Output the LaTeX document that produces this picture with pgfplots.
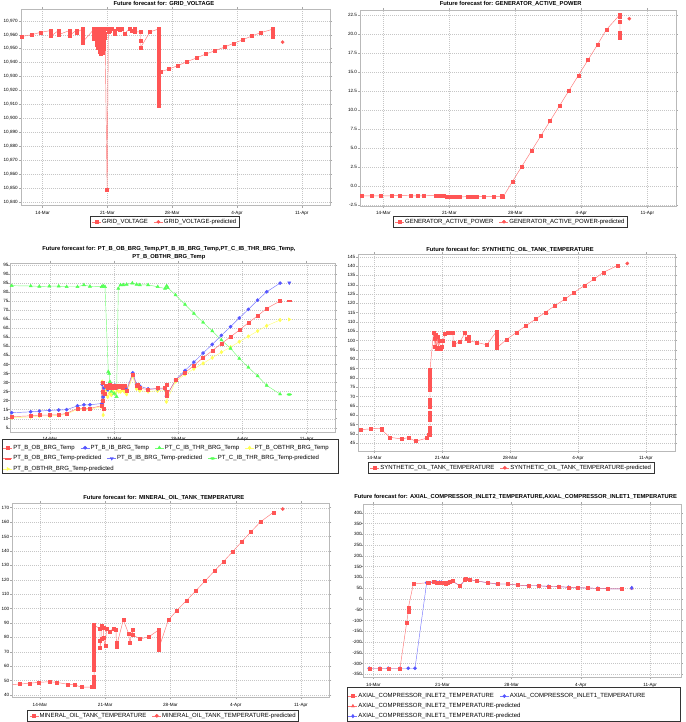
\documentclass[border=0pt]{standalone}
\usepackage{fontspec}
\setmainfont{Liberation Sans}
\usepackage{pgfplots}
\pgfplotsset{compat=1.18}
\definecolor{jred}{RGB}{255,85,85}
\definecolor{jblue}{RGB}{85,85,255}
\definecolor{jgreen}{RGB}{85,255,85}
\definecolor{jyellow}{RGB}{255,255,85}
\newcommand{\ticfont}{\fontsize{4.6}{5.5}\selectfont}
\newcommand{\legfont}{\fontsize{6}{7}\selectfont}
\newcommand{\titfont}{\fontsize{5.8}{8}\selectfont\bfseries}
\pgfplotsset{
  legend image code/.code={\draw[mark repeat=2,mark phase=2,#1] plot coordinates {(0pt,0pt) (4.5pt,0pt) (9pt,0pt)};},
  jfc/.style={
    scale only axis, anchor=north west,
    axis line style={gray!55},
    grid=major,
    major grid style={gray!45, dash pattern=on 0.8pt off 1.2pt, line width=0.35pt},
    tick style={gray!70, line width=0.4pt},
    tick align=outside, major tick length=2pt,
    xtick={14,21,28,35,42},
    xticklabels={14-Mar,21-Mar,28-Mar,4-Apr,11-Apr},
    ticklabel style={font=\ticfont},
    yticklabel style={inner xsep=0.8pt},
    /pgf/number format/assume math mode=true,
    scaled y ticks=false,
    title style={font=\titfont, anchor=south, inner sep=0pt, align=center},
    legend cell align=left,
    legend style={font=\legfont, draw=black!80, fill=white, inner xsep=2pt, inner ysep=2pt,
      nodes={inner sep=0.7pt}, /tikz/every even column/.append style={column sep=5pt}},
    every axis plot/.append style={line width=0.45pt},
  },
  legrow/.style={hide axis, scale only axis, width=5pt, height=5pt, xmin=0, xmax=1, ymin=0, ymax=1,
    anchor=north west, legend cell align=left,
    legend style={font=\legfont, draw=none, fill=none, at={(0,1)}, anchor=north west,
      inner xsep=0pt, inner ysep=0pt, nodes={inner sep=0.7pt},
      /tikz/every even column/.append style={column sep=5pt}}},
  sq/.style={color=#1!80!white, mark=square*, mark size=1.5pt, mark options={solid, fill=#1, draw=#1}},
  ci/.style={color=#1!80!white, mark=*, mark size=1.6pt, mark options={solid, fill=#1, draw=#1}},
  tu/.style={color=#1!80!white, mark=triangle*, mark size=1.8pt, mark options={solid, fill=#1, draw=#1}},
  dm/.style={color=#1!80!white, mark=diamond*, mark size=1.8pt, mark options={solid, fill=#1, draw=#1}},
  hr/.style={color=#1!80!white, mark=square*, mark size=1.5pt, mark options={solid, fill=#1, draw=#1, xscale=1.5, yscale=0.45}},
  td/.style={color=#1!80!white, mark=triangle*, mark size=1.8pt, mark options={solid, fill=#1, draw=#1, rotate=180}},
  he/.style={color=#1!80!white, mark=*, mark size=1.6pt, mark options={solid, fill=#1, draw=#1, xscale=1.4, yscale=0.6}},
  tr/.style={color=#1!80!white, mark=triangle*, mark size=1.8pt, mark options={solid, fill=#1, draw=#1, rotate=-90}},
}
\begin{document}
\begin{tikzpicture}
\useasboundingbox (0pt,0pt) rectangle (685pt,-722pt);

% ---------------- Panel 1: GRID_VOLTAGE
\begin{axis}[jfc, at={(20.7pt,-9pt)}, width=309.3pt, height=196.7pt,
  xmin=11.63, xmax=45.05, ymin=10837.6, ymax=10978.4,
  ytick={10840,10850,...,10970},
  title={Future forecast for: GRID\_VOLTAGE},
  title style={at={(0.463,1)}, yshift=-3.3pt},
  legend style={at={(0.465,-0.0524)}, anchor=north, legend columns=2}]
\addplot[sq=jred] coordinates {
(11.77,10958.8)(12.82,10960.0)(13.78,10961.7)
(14.90,10963.0)(14.90,10961.0)(14.90,10959.0)
(15.72,10963.0)(15.72,10961.5)(15.72,10960.0)
(16.90,10963.0)(16.90,10961.2)(16.90,10959.5)
(17.63,10963.0)(17.63,10961.5)
(18.30,10964.0)(18.30,10962.0)(18.30,10960.0)(18.30,10958.0)(18.30,10956.0)(18.30,10954.5)
(19.55,10964.0)(19.55,10962.0)(19.55,10960.0)(19.55,10958.0)(19.55,10957.0)
(19.70,10957.5)(19.70,10959.5)(19.70,10961.5)(19.70,10963.5)
(19.85,10964.0)(19.85,10961.5)(19.85,10959.0)(19.85,10956.5)(19.85,10954.0)(19.85,10953.0)
(20.00,10951.0)(20.00,10953.5)(20.00,10956.0)(20.00,10958.5)(20.00,10961.0)(20.00,10963.5)
(20.15,10964.0)(20.15,10961.0)(20.15,10958.0)(20.15,10955.0)(20.15,10952.0)(20.15,10949.0)(20.15,10948.0)
(20.30,10946.5)(20.30,10949.5)(20.30,10952.5)(20.30,10955.5)(20.30,10958.5)(20.30,10961.5)(20.30,10964.0)
(20.45,10964.0)(20.45,10961.0)(20.45,10958.0)(20.45,10955.0)(20.45,10952.0)(20.45,10949.0)(20.45,10947.0)
(20.60,10950.0)(20.60,10953.0)(20.60,10956.0)(20.60,10959.0)(20.60,10962.0)(20.60,10964.0)
(20.75,10964.0)(20.75,10961.0)(20.75,10958.0)
(20.97,10848.8)
(21.10,10964.0)(21.10,10962.0)(21.30,10963.0)(21.50,10964.0)
(21.80,10962.5)(21.80,10960.5)(22.10,10964.5)(22.30,10963.5)(22.50,10964.0)
(22.90,10961.0)(23.40,10964.5)(23.60,10962.5)(23.90,10964.5)(23.90,10962.0)
(24.60,10962.0)(24.60,10956.0)(24.60,10951.0)
(25.60,10962.0)
(26.50,10964.0)(26.50,10961.5)(26.50,10959.0)(26.50,10956.5)(26.50,10954.0)(26.50,10951.5)
(26.50,10949.0)(26.50,10946.5)(26.50,10944.0)(26.50,10941.5)(26.50,10939.0)(26.50,10936.5)
(26.50,10934.0)(26.50,10931.5)(26.50,10929.0)(26.50,10926.5)(26.50,10924.0)(26.50,10921.5)
(26.50,10919.0)(26.50,10916.5)(26.50,10914.0)(26.50,10911.5)(26.50,10909.0)
(26.75,10933.5)
(27.65,10935.4)(28.65,10938.0)(29.60,10940.7)(30.60,10943.3)(31.60,10946.1)(32.60,10948.5)
(33.64,10951.1)(34.60,10953.8)(35.58,10956.2)(36.55,10959.0)(37.55,10961.4)
(38.90,10964.0)(38.90,10962.0)(38.90,10960.0)(38.90,10958.5)
};
\addlegendentry{GRID\_VOLTAGE}
\addplot[ci=jred] coordinates {(39.93,10954.7)};
\addlegendentry{GRID\_VOLTAGE-predicted}
\end{axis}

% ---------------- Panel 2: GENERATOR_ACTIVE_POWER
\begin{axis}[jfc, at={(360pt,-10pt)}, width=316pt, height=195.7pt,
  xmin=11.53, xmax=45.04, ymin=-2.6, ymax=23.2,
  ytick={-2.5,0,...,22.5},
  yticklabel style={/pgf/number format/.cd, fixed, fixed zerofill, precision=1},
  title={Future forecast for: GENERATOR\_ACTIVE\_POWER},
  title style={at={(0.477,1)}, yshift=-2pt},
  legend style={at={(0.475,-0.0526)}, anchor=north, legend columns=2}]
\addplot[sq=jred] coordinates {
(11.73,-1.30)(12.72,-1.30)(13.72,-1.30)(14.85,-1.30)(15.70,-1.25)(16.90,-1.30)(17.60,-1.30)(18.30,-1.30)
(19.55,-1.25)(19.70,-1.30)(19.85,-1.25)(20.00,-1.30)(20.15,-1.25)(20.30,-1.30)(20.45,-1.35)
(20.70,-1.40)(20.90,-1.45)(21.10,-1.40)(21.30,-1.45)(21.50,-1.45)(21.70,-1.45)(21.90,-1.45)(22.15,-1.45)
(22.90,-1.40)(23.30,-1.40)(23.50,-1.40)(23.70,-1.40)(23.90,-1.40)(24.60,-1.40)(25.70,-1.40)
(26.55,-1.35)(26.60,-1.45)(26.70,-1.45)
(27.70,0.6)(28.70,2.6)(29.70,4.6)(30.70,6.6)(31.70,8.6)(32.70,10.6)(33.70,12.6)(34.70,14.6)
(35.70,16.6)(36.70,18.6)(37.65,20.6)
(39.10,22.6)(39.10,22.3)(39.10,21.7)(39.10,20.2)(39.10,19.9)(39.10,19.6)
};
\addlegendentry{GENERATOR\_ACTIVE\_POWER}
\addplot[ci=jred] coordinates {(40.09,22.05)};
\addlegendentry{GENERATOR\_ACTIVE\_POWER-predicted}
\end{axis}

% ---------------- Panel 3: PT bearing temperatures
\begin{axis}[jfc, at={(10pt,-262.7pt)}, width=325pt, height=169pt,
  xmin=9.64, xmax=45.09, ymin=2.8, ymax=96.3,
  ytick={5,10,...,95},
  yticklabel style={xshift=1.5pt},
  title={Future forecast for: PT\_B\_OB\_BRG\_Temp,PT\_B\_IB\_BRG\_Temp,PT\_C\_IB\_THR\_BRG\_Temp,\\PT\_B\_OBTHR\_BRG\_Temp},
  title style={at={(0.489,1)}, yshift=-3.6pt},
  legend style={at={(-0.0215,-0.0728)}, anchor=north west, legend columns=4, draw=none, fill=none, inner xsep=0pt, inner ysep=0pt}]
\addlegendimage{sq=jred}\addlegendentry{PT\_B\_OB\_BRG\_Temp}
\addlegendimage{ci=jblue}\addlegendentry{PT\_B\_IB\_BRG\_Temp}
\addlegendimage{tu=jgreen}\addlegendentry{PT\_C\_IB\_THR\_BRG\_Temp}
\addlegendimage{dm=jyellow}\addlegendentry{PT\_B\_OBTHR\_BRG\_Temp}
% yellow
\addplot[dm=jyellow, forget plot] coordinates {
(9.82,10.5)(11.9,11.0)(12.84,11.5)(13.93,11.5)(14.95,11.8)(15.82,12.5)(17.0,15.2)(17.7,15.2)(18.36,15.2)
(19.64,16.7)(19.70,30.5)(19.80,12.0)(19.90,24.0)(20.1,26.0)(20.3,22.0)(20.5,24.0)(20.7,23.0)(20.9,25.0)
(21.1,24.0)(21.3,26.0)(21.5,25.0)(21.7,25.0)(21.9,26.0)(22.1,25.0)(22.36,23.5)(23.02,33.5)(23.45,26.5)
(23.8,25.5)(24.7,25.0)(25.75,25.5)(26.55,26.0)(26.7,19.4)
(27.7,30.6)(28.73,34.5)(29.7,37.6)(30.7,40.6)(31.7,43.7)(32.7,46.8)(33.7,49.6)(34.65,52.6)
(35.64,55.5)(36.65,58.5)(37.64,61.4)(39.1,64.6)
};
% green
\addplot[tu=jgreen, forget plot] coordinates {
(9.82,83.6)(11.9,83.4)(12.84,83.2)(13.93,83.3)(14.95,83.3)(15.82,83.0)(17.0,83.0)(17.7,84.0)(18.36,83.2)
(19.64,83.0)(19.80,83.5)(20.0,83.0)(20.36,36.0)(20.45,35.0)(20.54,30.5)(20.7,25.0)(21.0,24.0)(21.27,22.2)
(21.45,82.0)(21.7,84.0)(22.0,84.0)(22.36,84.3)(22.98,85.0)(23.45,84.3)(23.8,84.0)(24.7,84.0)(25.75,83.0)
(26.55,82.0)(26.73,83.5)(26.84,82.5)
(27.7,78.4)(28.73,73.2)(29.7,68.2)(30.7,63.3)(31.7,58.5)(32.7,53.5)(33.7,48.9)(34.65,43.3)
(35.64,38.4)(36.65,33.6)(37.64,28.4)(39.1,23.6)
};
% blue
\addplot[ci=jblue, forget plot] coordinates {
(9.82,13.3)(11.9,13.8)(12.84,14.2)(13.93,14.6)(14.95,14.8)(15.82,15.0)(17.0,17.1)(17.7,17.7)(18.36,17.7)
(19.64,18.4)(19.70,29.0)(19.80,22.0)(19.90,27.0)(20.1,28.0)(20.3,26.0)(20.5,28.0)(20.7,27.0)(20.9,27.5)
(21.1,28.5)(21.3,27.0)(21.5,28.0)(21.7,27.5)(21.9,28.0)(22.1,27.0)(22.36,26.0)(23.02,35.4)(23.45,29.0)
(23.8,28.0)(24.7,26.5)(25.75,26.5)(26.55,26.5)(26.7,22.5)
(27.7,31.4)(28.73,36.7)(29.7,41.3)(30.7,46.3)(31.7,51.1)(32.7,56.1)(33.7,60.9)(34.65,65.7)
(35.64,70.5)(36.65,75.6)(37.64,80.2)(39.1,85.0)
};
% red
\addplot[sq=jred, forget plot] coordinates {
(9.82,11.1)(11.9,11.6)(12.84,12.0)(13.93,12.0)(14.95,12.2)(15.82,13.0)(17.0,15.7)(17.7,15.7)(18.36,15.7)
(19.64,17.2)(19.70,30.0)(19.75,25.0)(19.80,20.0)(19.85,15.5)(19.95,24.0)(20.1,28.0)(20.3,27.0)(20.5,29.0)
(20.7,27.0)(20.9,28.5)(21.1,27.0)(21.3,28.5)(21.5,27.5)(21.7,28.5)(21.9,27.0)(22.1,28.5)(22.36,25.5)
(23.02,34.5)(23.45,28.4)(23.6,29.0)(23.8,27.0)(24.7,26.0)(25.75,26.9)(26.55,27.0)(26.7,29.0)(26.7,25.0)(26.7,22.5)
(27.7,31.4)(28.73,35.4)(29.7,39.5)(30.7,43.7)(31.7,47.6)(32.7,51.6)(33.7,55.3)(34.65,59.0)
(35.64,63.1)(36.65,66.9)(37.64,71.0)(39.1,75.1)
};
% predicted
\addplot[tr=jyellow, forget plot] coordinates {(40.1,64.9)};
\addplot[he=jgreen, forget plot] coordinates {(40.1,23.4)};
\addplot[td=jblue, forget plot] coordinates {(40.1,85.2)};
\addplot[hr=jred, forget plot] coordinates {(40.1,75.4)};
\end{axis}
\begin{axis}[legrow, at={(3pt,-454.6pt)}, legend columns=3]
\addlegendimage{hr=jred}\addlegendentry{PT\_B\_OB\_BRG\_Temp-predicted}
\addlegendimage{td=jblue}\addlegendentry{PT\_B\_IB\_BRG\_Temp-predicted}
\addlegendimage{he=jgreen}\addlegendentry{PT\_C\_IB\_THR\_BRG\_Temp-predicted}
\end{axis}
\begin{axis}[legrow, at={(3pt,-465.1pt)}]
\addlegendimage{tr=jyellow}\addlegendentry{PT\_B\_OBTHR\_BRG\_Temp-predicted}
\end{axis}
\draw[black!80] (2pt,-439pt) rectangle (338pt,-473.5pt);

% ---------------- Panel 4: SYNTHETIC_OIL_TANK_TEMPERATURE
\begin{axis}[jfc, at={(358.3pt,-254.3pt)}, width=316.7pt, height=196.4pt,
  xmin=12.35, xmax=45.0, ymin=41.0, ymax=146.3,
  ytick={45,50,...,145},
  title={Future forecast for: SYNTHETIC\_OIL\_TANK\_TEMPERATURE},
  title style={at={(0.479,1)}, yshift=-4.3pt},
  legend style={at={(0.482,-0.0575)}, anchor=north, legend columns=2}]
\addplot[sq=jred] coordinates {
(12.59,52.3)(13.62,52.7)(14.76,53.0)(14.76,52.2)(15.6,48.2)(16.8,47.3)(17.5,48.0)(18.26,46.1)
(19.40,47.7)(19.57,49.5)
(19.74,49.5)(19.74,51.5)(19.74,53.5)(19.74,57.5)(19.74,59.5)(19.74,61.5)(19.74,64.5)(19.74,66.5)
(19.74,68.5)(19.74,73.5)(19.74,75.5)(19.74,77.5)(19.74,79.5)(19.74,81.5)(19.74,83.5)(19.74,84.3)
(20.1,104.0)(20.2,101.0)(20.26,97.0)(20.3,103.0)(20.4,95.5)(20.5,102.0)(20.6,96.0)(20.7,100.0)
(20.85,95.5)(21.0,97.0)(21.1,100.0)(21.3,103.5)(21.6,104.0)(21.9,104.0)(22.1,104.0)(22.14,99.0)(22.14,97.7)
(22.83,99.5)(23.35,104.0)(23.5,101.0)(23.7,102.0)(23.7,100.0)(24.6,99.0)(25.6,97.8)
(26.6,105.0)(26.6,103.0)(26.6,101.0)(26.6,99.0)(26.6,97.0)(26.6,96.0)
(27.65,100.7)(28.67,104.5)(29.64,108.0)(30.63,111.6)(31.63,115.2)(32.63,118.8)(33.66,122.3)
(34.6,125.9)(35.65,129.5)(36.65,133.0)(37.6,136.6)(39.05,140.2)
};
\addlegendentry{SYNTHETIC\_OIL\_TANK\_TEMPERATURE}
\addplot[ci=jred] coordinates {(40.08,141.4)};
\addlegendentry{SYNTHETIC\_OIL\_TANK\_TEMPERATURE-predicted}
\end{axis}

% ---------------- Panel 5: MINERAL_OIL_TANK_TEMPERATURE
\begin{axis}[jfc, at={(12.3pt,-503.3pt)}, width=317pt, height=194pt,
  xmin=11.03, xmax=45.04, ymin=38.4, ymax=173.05,
  ytick={40,50,...,170},
  title={Future forecast for: MINERAL\_OIL\_TANK\_TEMPERATURE},
  title style={at={(0.478,1)}, yshift=-2.7pt},
  legend style={at={(0.475,-0.0655)}, anchor=north, legend columns=2}]
\addplot[sq=jred] coordinates {
(10.8,47.2)(11.85,47.6)(12.85,48.1)(13.86,48.8)(15.0,49.2)(15.79,48.8)(17.0,47.4)(17.72,47.0)(18.43,45.5)
(19.55,45.4)
(19.8,45.4)(19.8,47.5)(19.8,49.5)(19.8,51.5)(19.8,52.7)(19.8,57.6)(19.8,59.6)(19.8,61.6)(19.8,64.6)
(19.8,66.6)(19.8,68.6)(19.8,70.6)(19.8,72.4)(19.8,74.5)(19.8,76.5)(19.8,78.5)(19.8,80.5)(19.8,82.5)
(19.8,84.5)(19.8,86.5)(19.8,88.5)
(20.44,86.0)(20.44,78.0)(20.44,73.0)(20.6,79.0)(20.6,88.0)(20.8,87.0)(20.8,80.0)(21.0,74.0)
(21.15,86.3)(21.5,84.0)(21.87,86.3)(22.15,85.0)(22.2,76.0)(22.2,73.5)(22.94,92.1)(23.5,82.8)
(23.65,76.0)(23.9,85.0)(24.0,81.6)(24.73,78.9)(25.7,80.5)
(26.7,85.0)(26.7,82.5)(26.7,80.0)(26.7,77.5)(26.7,75.0)(26.7,72.5)(26.7,71.5)
(27.77,92.0)(28.7,98.8)(29.7,105.5)(30.7,112.2)(31.7,119.1)(32.7,126.0)(33.67,132.5)(34.67,139.5)
(35.64,146.4)(36.64,153.3)(37.64,160.1)(39.04,166.8)
};
\addlegendentry{MINERAL\_OIL\_TANK\_TEMPERATURE}
\addplot[ci=jred] coordinates {(40.04,169.1)};
\addlegendentry{MINERAL\_OIL\_TANK\_TEMPERATURE-predicted}
\end{axis}

% ---------------- Panel 6: AXIAL compressor inlet temperatures
\begin{axis}[jfc, at={(363.3pt,-504.3pt)}, width=317.4pt, height=173pt,
  xmin=12.99, xmax=45.1, ymin=-364, ymax=439,
  ytick={-350,-300,...,400},
  yticklabel style={xshift=1.5pt},
  title={Future forecast for: AXIAL\_COMPRESSOR\_INLET2\_TEMPERATURE,AXIAL\_COMPRESSOR\_INLET1\_TEMPERATURE},
  title style={at={(0.48,1)}, yshift=-1.7pt},
  legend style={at={(-0.0482,-0.0867)}, anchor=north west, legend columns=2, draw=none, fill=none, inner xsep=0pt, inner ysep=0pt}]
\addlegendimage{sq=jred}\addlegendentry{AXIAL\_COMPRESSOR\_INLET2\_TEMPERATURE}
\addlegendimage{ci=jblue}\addlegendentry{AXIAL\_COMPRESSOR\_INLET1\_TEMPERATURE}
\addplot[ci=jblue, forget plot] coordinates {
(13.6,-322)(14.67,-322)(15.52,-322)(16.7,-322)(17.54,-322)(18.22,-322)
(19.4,75)(19.6,74)(20.07,78)(20.4,77)(20.7,77)(20.9,77)(21.2,73)(21.35,72)(21.55,76)(21.76,79)(22.0,82)
(22.77,61)(23.3,88)(23.38,92)(23.78,89)(24.5,83)(25.57,75)(26.55,69)(27.6,69)(28.64,64)(29.69,61)
(30.7,61)(31.7,58)(32.73,57)(33.74,54)(34.7,52)(35.7,50)(36.7,49)(37.7,47)(39.13,46)
};
\addplot[sq=jred, forget plot] coordinates {
(13.6,-322)(14.67,-322)(15.52,-322)(16.7,-322)(17.38,-110)(17.54,-59)(17.54,-43)(18.05,69)
(19.47,75)(19.6,74)(20.07,78)(20.4,77)(20.7,77)(20.9,77)(21.2,73)(21.35,72)(21.55,76)(21.76,79)(22.0,82)
(22.77,61)(23.3,88)(23.38,92)(23.78,89)(24.5,83)(25.57,75)(26.55,69)(27.6,69)(28.64,64)(29.69,61)
(30.7,61)(31.7,58)(32.73,57)(33.74,54)(34.7,52)(35.7,50)(36.7,49)(37.7,47)(39.13,46)
};
\addplot[tu=jred, forget plot] coordinates {(40.15,49)};
\addplot[dm=jblue, forget plot] coordinates {(40.15,51)};
\end{axis}
\begin{axis}[legrow, at={(348pt,-702.3pt)}]
\addlegendimage{tu=jred}\addlegendentry{AXIAL\_COMPRESSOR\_INLET2\_TEMPERATURE-predicted}
\end{axis}
\begin{axis}[legrow, at={(348pt,-712.3pt)}]
\addlegendimage{dm=jblue}\addlegendentry{AXIAL\_COMPRESSOR\_INLET1\_TEMPERATURE-predicted}
\end{axis}
\draw[black!80] (347pt,-686.7pt) rectangle (680pt,-721.5pt);
\end{tikzpicture}
\end{document}
